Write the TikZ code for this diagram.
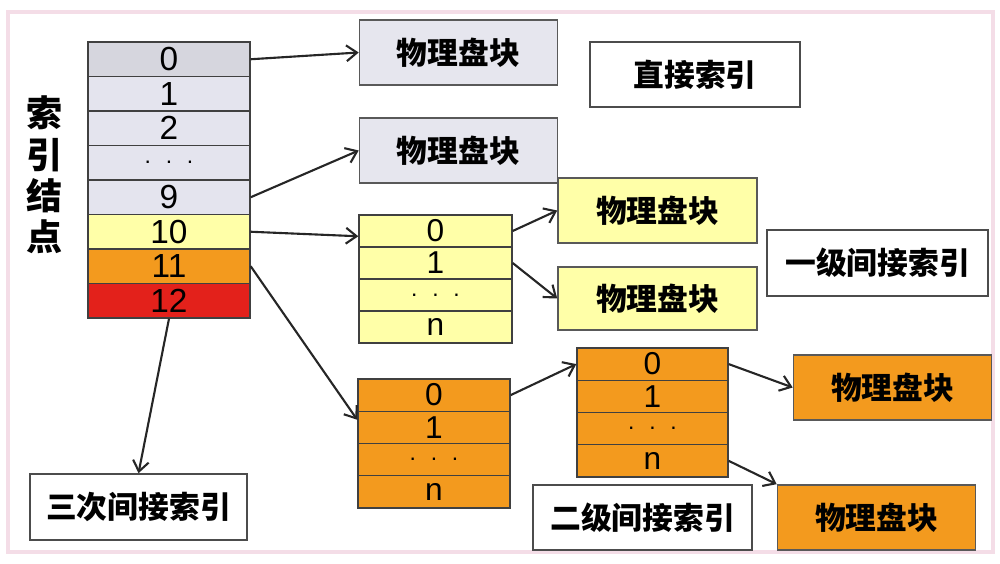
\documentclass[tikz,border=0pt]{standalone}
\usepackage{fontspec}
\setmainfont{Liberation Sans}
\newfontfamily\cjk{Noto Sans CJK SC}
\usetikzlibrary{arrows.meta, positioning}

\definecolor{cellgray}{HTML}{E4E4EE}
\definecolor{cellgrayd}{HTML}{D6D6DE}
\definecolor{blkgray}{HTML}{E6E6EE}
\definecolor{lemon}{HTML}{FFFFA8}
\definecolor{amber}{HTML}{F39A1E}
\definecolor{crimson}{HTML}{E3211B}
\definecolor{framepink}{HTML}{F4DDE7}

\newcommand{\gapdots}{{\fontsize{13pt}{13pt}\selectfont . \ . \ .}}

\begin{document}
\begin{tikzpicture}[
    x=0.2mm, y=-0.2mm,
    >={Straight Barb[length=6pt,width=9pt]},
    slot/.style={rectangle, draw=black!75, line width=0.8pt, inner sep=0pt, font=\fontsize{18pt}{20pt}\selectfont},
    blk/.style={rectangle, draw=black!65, line width=0.9pt, inner sep=0pt, minimum width=39.6mm, minimum height=13mm, font=\cjk\bfseries\fontsize{17.5pt}{20pt}\selectfont},
    tag/.style={rectangle, draw=black!70, fill=white, line width=0.9pt, inner sep=0pt, minimum height=13.1mm, font=\cjk\bfseries\fontsize{17.5pt}{20pt}\selectfont},
    conn/.style={->, black!85, line width=1.2pt}
]

% -------- Canvas --------
\useasboundingbox (0,0) rectangle (1000,564);
\draw[framepink, line width=2.5pt] (8,12) rectangle (993,552);

% -------- Row sizes --------
\def\inoh{34.5}   % index node rows
\def\yelh{32}     % single indirect rows
\def\orh{32.25}   % double indirect rows

% -------- Index node --------
\node[align=center, font=\cjk\bfseries\fontsize{20.5pt}{23.5pt}\selectfont] (lbl) at (45,175) {索\\引\\结\\点};

\foreach \i/\lab/\col in {0/0/cellgrayd, 1/1/cellgray, 2/2/cellgray, 3/\gapdots/cellgray,
                          4/9/cellgray, 5/10/lemon, 6/11/amber, 7/12/crimson} {
    \node[slot, fill=\col, minimum width=32.4mm, minimum height=6.9mm, font=\fontsize{19pt}{20pt}\selectfont] (ino\i) at (169,59.25+\inoh*\i) {\lab};
}

% -------- Direct blocks --------
\node[blk, fill=blkgray] (pbA) at (458.5,52.5) {物理盘块};
\node[blk, fill=blkgray] (pbB) at (458.5,150.5) {物理盘块};
\node[tag, minimum width=42mm] (direct) at (695,74.5) {直接索引};

% -------- Single indirect --------
\foreach \i/\lab in {0/0, 1/1, 2/\gapdots, 3/n} {
    \node[slot, fill=lemon, minimum width=30.6mm, minimum height=6.4mm] (yel\i) at (435.5,231+\yelh*\i) {\lab};
}
\node[blk, fill=lemon, minimum width=39.8mm] (pbC) at (657.5,210.5) {物理盘块};
\node[blk, fill=lemon, minimum width=39.8mm, minimum height=12.6mm] (pbD) at (657.5,298.5) {物理盘块};
\node[tag, minimum width=44.2mm] (lvl1) at (877.5,263) {一级间接索引};

% -------- Double indirect --------
\foreach \i/\lab in {0/0, 1/1, 2/\gapdots, 3/n} {
    \node[slot, fill=amber, minimum width=30.4mm, minimum height=6.45mm] (orA\i) at (434,395.1+\orh*\i) {\lab};
    \node[slot, fill=amber, minimum width=30.2mm, minimum height=6.45mm] (orB\i) at (652.5,364.1+\orh*\i) {\lab};
}
\node[blk, fill=amber] (pbE) at (892.5,387.5) {物理盘块};
\node[blk, fill=amber] (pbF) at (876.5,517.5) {物理盘块};
\node[tag, minimum width=43.8mm] (lvl2) at (642.5,517.5) {二级间接索引};

% -------- Triple indirect --------
\node[tag, minimum width=43.4mm, minimum height=13.2mm] (lvl3) at (138.5,507) {三次间接索引};

% -------- Connectors --------
\draw[conn] (ino0.east) -- (pbA.west);
\draw[conn] (ino4.east) -- (pbB.west);
\draw[conn] (ino5.east) -- ([yshift=-3pt]yel0.west);
\draw[conn] (ino6.east) -- ([yshift=-4.5pt]orA0.south west);
\draw[conn] (ino7.south) -- (lvl3.north);

\draw[conn] (yel0.east) -- (pbC.west);
\draw[conn] (yel1.east) -- (pbD.west);

\draw[conn] (orA0.east) -- (orB0.west);
\draw[conn] (orB0.east) -- (pbE.west);
\draw[conn] (orB3.east) -- (pbF.north west);

\end{tikzpicture}
\end{document}
